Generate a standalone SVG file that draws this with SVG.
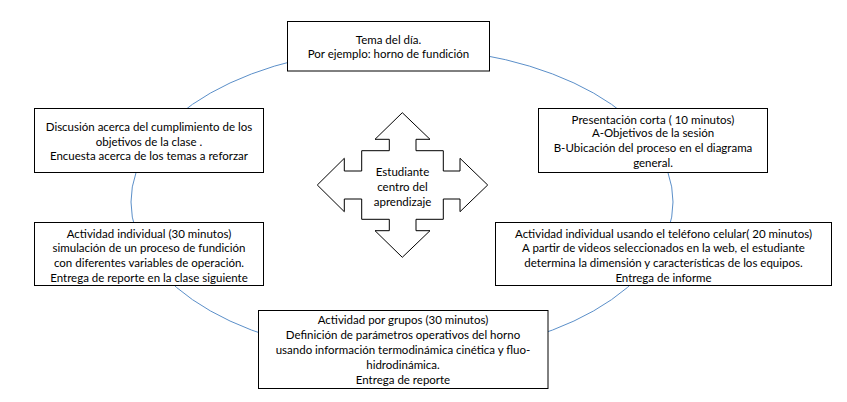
<svg xmlns="http://www.w3.org/2000/svg" width="847" height="402" viewBox="0 0 847 402">
<style>
.box{fill:#fff;stroke:#000;stroke-width:1}
.t{font-family:Lato,"Liberation Sans",sans-serif;font-size:11.5px;fill:#000;text-anchor:middle}
.ring{fill:none;stroke:#5b8fc9;stroke-width:1}
</style>
<rect width="847" height="402" fill="#fff"/>
<g id="connectors">
<ellipse class="ring" cx="402" cy="202" rx="271" ry="154"/>
</g>
<g id="center">
<path class="box" d="M402.3 112.7 L430 139.3 L416 139.3 L416 150.7 L443.3 150.7 L443.3 171 L460 171 L460 158.3 L487.7 185 L460 211.7 L460 199 L443.3 199 L443.3 219.3 L416 219.3 L416 230.7 L430 230.7 L402.3 257.3 L375 230.7 L389.3 230.7 L389.3 219.3 L361.7 219.3 L361.7 199 L344.3 199 L344.3 211.7 L317.3 185 L344.3 158.3 L344.3 171 L361.7 171 L361.7 150.7 L389.3 150.7 L389.3 139.3 L375 139.3 Z"/>
<text class="t" x="402.5" y="175.5">Estudiante</text>
<text class="t" x="402.5" y="191">centro del</text>
<text class="t" x="402.5" y="206">aprendizaje</text>
</g>
<g id="tema">
<rect class="box" x="287.5" y="21.5" width="202" height="49.5"/>
<text class="t" x="388.5" y="43.5">Tema del día.</text>
<text class="t" x="388.5" y="58">Por ejemplo: horno de fundición</text>
</g>
<g id="discusion">
<rect class="box" x="34.5" y="108.5" width="229" height="64"/>
<text class="t" x="149" y="130.5">Discusión acerca del cumplimiento de los</text>
<text class="t" x="149" y="145.5">objetivos de la clase .</text>
<text class="t" x="149" y="160">Encuesta acerca de los temas a reforzar</text>
</g>
<g id="presentacion">
<rect class="box" x="538.5" y="108.5" width="229" height="64"/>
<text class="t" x="653" y="123.5">Presentación corta ( 10 minutos)</text>
<text class="t" x="653" y="137">A-Objetivos de la sesión</text>
<text class="t" x="653" y="151.5">B-Ubicación del proceso en el diagrama</text>
<text class="t" x="653" y="166.5">general.</text>
</g>
<g id="individual30">
<rect class="box" x="34.5" y="222.5" width="229" height="63"/>
<text class="t" x="149" y="237.5">Actividad individual (30 minutos)</text>
<text class="t" x="149" y="252">simulación de un proceso de fundición</text>
<text class="t" x="149" y="267">con diferentes variables de operación.</text>
<text class="t" x="149" y="281.5">Entrega de reporte en la clase siguiente</text>
</g>
<g id="celular">
<rect class="box" x="495.5" y="222.5" width="336" height="63"/>
<text class="t" x="663.5" y="237.5">Actividad individual usando el teléfono celular( 20 minutos)</text>
<text class="t" x="663.5" y="252">A partir de videos seleccionados en la web, el estudiante</text>
<text class="t" x="663.5" y="267">determina la dimensión y características de los equipos.</text>
<text class="t" x="663.5" y="281.5">Entrega de informe</text>
</g>
<g id="grupos">
<rect class="box" x="258.5" y="310.5" width="289.5" height="78"/>
<text class="t" x="403" y="323.5">Actividad por grupos (30 minutos)</text>
<text class="t" x="403" y="338.5">Definición de parámetros operativos del horno</text>
<text class="t" x="403" y="353.5">usando información termodinámica cinética y fluo-</text>
<text class="t" x="403" y="368.5">hidrodinámica.</text>
<text class="t" x="403" y="383.5">Entrega de reporte</text>
</g>
</svg>
